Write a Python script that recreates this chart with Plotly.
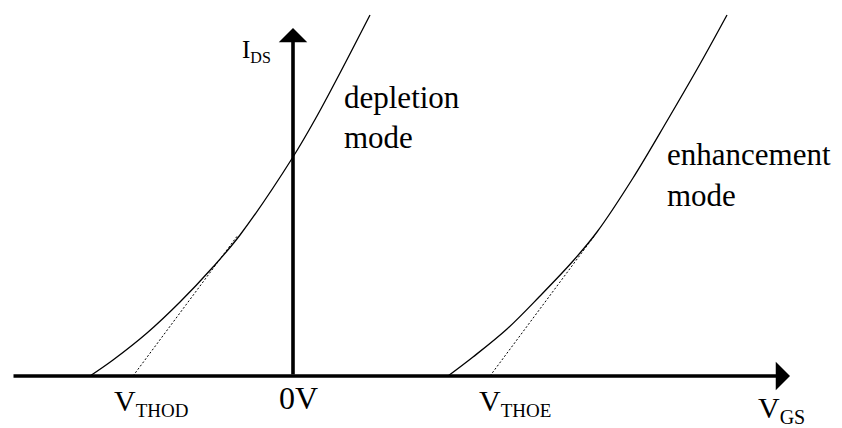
import plotly.graph_objects as go

# curves (arbitrary units: V_GS, I_DS)
vgs_dep = [-2.03, -1.80, -1.46, -1.13, -0.80, -0.53, 0.00, 0.24, 0.47, 0.77]
ids_dep = [0.00, 0.16, 0.43, 0.74, 1.09, 1.41, 2.19, 2.60, 3.03, 3.61]

vgs_enh = [1.55, 1.80, 2.14, 2.47, 2.80, 3.04, 3.40, 3.74, 4.07, 4.34]
ids_enh = [0.00, 0.19, 0.47, 0.80, 1.15, 1.44, 1.98, 2.55, 3.12, 3.61]

# dashed tangents that give the threshold voltages
tan_dep_x = [-1.60, -0.55]
tan_dep_y = [0.00, 1.41]
tan_enh_x = [1.97, 3.02]
tan_enh_y = [0.00, 1.41]

# axis extents
x_axis_span = [-2.81, 4.97]
y_axis_span = [0.00, 3.48]

FONT = "Liberation Serif, Times New Roman, serif"

fig = go.Figure()

for xs, ys in [(vgs_dep, ids_dep), (vgs_enh, ids_enh)]:
    fig.add_trace(go.Scatter(x=xs, y=ys, mode="lines",
                             line=dict(color="black", width=1.3, shape="spline", smoothing=1.0),
                             hoverinfo="skip"))

for xs, ys in [(tan_dep_x, tan_dep_y), (tan_enh_x, tan_enh_y)]:
    fig.add_trace(go.Scatter(x=xs, y=ys, mode="lines",
                             line=dict(color="black", width=1, dash="2px,2px"),
                             hoverinfo="skip"))

# axis arrows
arrow = dict(showarrow=True, text="", xref="x", yref="y", axref="x", ayref="y",
             arrowhead=1, arrowwidth=3.6, arrowsize=1.32, arrowcolor="black", standoff=0)
fig.add_annotation(x=x_axis_span[1], y=0, ax=x_axis_span[0], ay=0, **arrow)
fig.add_annotation(x=0, y=y_axis_span[1], ax=0, ay=0, **arrow)


def sub(main, small, px):
    return f"{main}<sub><span style='font-size:{px}px'>{small}</span></sub>"


labels = [
    # text, x, y, size, anchor
    (sub("I", "DS", 16), -0.20, 3.25, 25, "right"),
    ("depletion", 0.49, 2.79, 31, "left"),
    ("mode", 0.49, 2.39, 31, "left"),
    ("enhancement", 3.72, 2.22, 31, "left"),
    ("mode", 3.72, 1.81, 31, "left"),
    (sub("V", "THOD", 19), -1.81, -0.26, 30, "left"),
    ("0V", -0.16, -0.22, 32, "left"),
    (sub("V", "THOE", 19), 1.84, -0.26, 30, "left"),
    (sub("V", "GS", 20), 4.63, -0.33, 30, "left"),
]
for txt, x, y, size, anchor in labels:
    fig.add_annotation(x=x, y=y, text=txt, showarrow=False, xref="x", yref="y",
                       xanchor=anchor, yanchor="middle",
                       font=dict(family=FONT, size=size, color="black"))

# page body keeps an 8px margin, so the figure is 8px smaller than the window
fig.update_layout(
    width=834, height=420,
    margin=dict(l=0, r=0, t=0, b=0),
    paper_bgcolor="white", plot_bgcolor="white",
    showlegend=False,
    xaxis=dict(range=[-2.85, 5.49], visible=False, fixedrange=True),
    yaxis=dict(range=[-0.52, 3.68], visible=False, fixedrange=True),
)

fig.write_html("out.html")
